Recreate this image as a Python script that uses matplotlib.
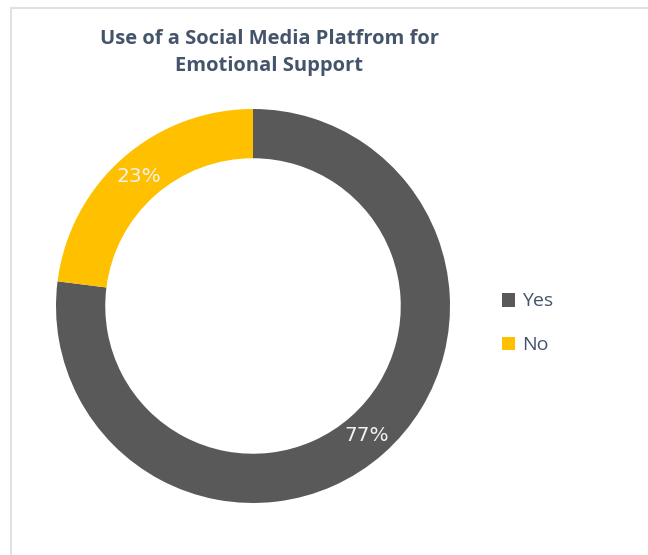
import matplotlib
matplotlib.use("Agg")
import matplotlib.pyplot as plt
from matplotlib.patches import Rectangle

labels = ["Yes", "No"]
shares = [77, 23]
colors = ["#595959", "#FFC000"]
title = "Use of a Social Media Platfrom for\nEmotional Support"

W, H = 648, 555
fig = plt.figure(figsize=(W / 100, H / 100), dpi=100)

# light frame around the chart area (runs off the right and bottom edge)
fig.add_artist(Rectangle((11 / W, -0.1), 1.2, (H - 8) / H + 0.1,
                         transform=fig.transFigure, fill=False,
                         edgecolor="#DDE2E8", linewidth=1.5))

# donut: centre at (253, 306) px, outer radius 197 px
cx, cy, half = 253, 306, 200
ax = fig.add_axes([(cx - half) / W, (H - cy - half) / H, 2 * half / W, 2 * half / H])
wedges, _, autotexts = ax.pie(
    shares, colors=colors, startangle=90, counterclock=False,
    radius=1.0, wedgeprops=dict(width=0.25, linewidth=0),
    autopct="%d%%", pctdistance=0.875,
    textprops=dict(color="#F2F2F2", fontsize=14.5, family="DejaVu Sans"))
lim = half / 197
ax.set_xlim(-lim, lim)
ax.set_ylim(-lim, lim)
ax.set_aspect("equal")
ax.axis("off")

fig.text(269 / W, 1 - 29 / H, title, ha="center", va="top", color="#44546A",
         fontsize=14.5, fontweight="bold", family="Open Sans",
         linespacing=1.45)

leg = fig.legend(wedges, labels, loc="upper left",
                 bbox_to_anchor=(484 / W, 1 - 275 / H), frameon=False,
                 prop=dict(family="Open Sans", size=14),
                 labelcolor="#44546A", handlelength=0.7, handleheight=0.7,
                 handletextpad=0.35, labelspacing=1.33)

fig.savefig("out.png", dpi=100)
